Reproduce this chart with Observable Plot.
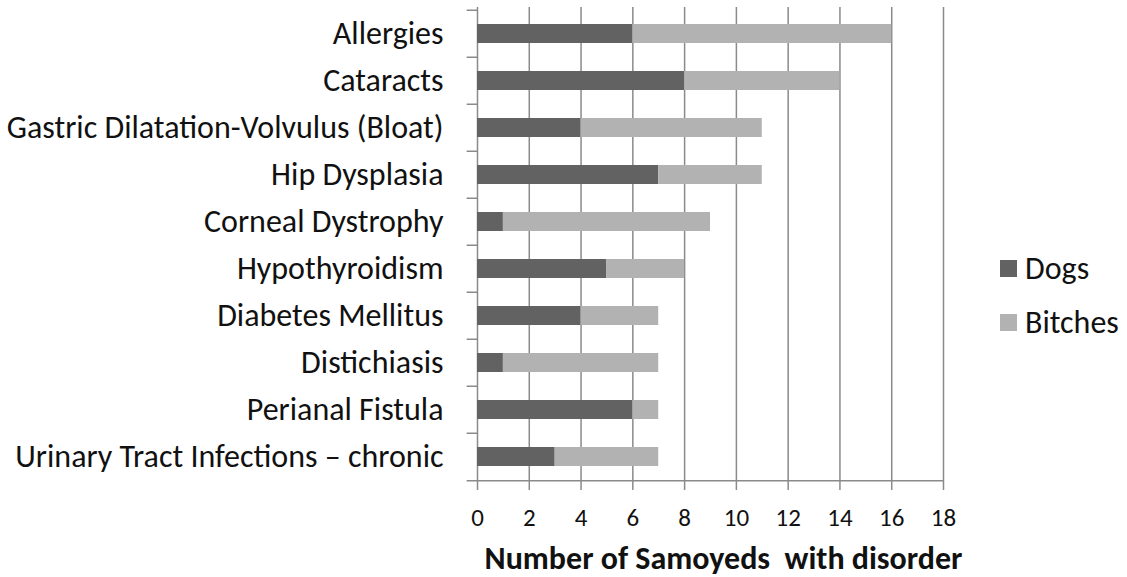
<!DOCTYPE html>
<html><head><meta charset="utf-8">
<script src="https://cdn.jsdelivr.net/npm/d3@7"></script>
<script src="https://cdn.jsdelivr.net/npm/@observablehq/plot@0.6"></script>
<style>
body{margin:0;background:#fff;font-family:Carlito,Lato,sans-serif;}
#wrap{position:relative;width:1127px;height:577px;}
#legend{position:absolute;left:1000px;top:248px;font-size:32px;color:#111;}
.li{display:flex;align-items:center;height:40px;margin-bottom:14px;}
.sw{width:17px;height:17px;margin-right:8px;}
</style></head>
<body><div id="wrap"><div id="legend"></div></div>
<script>
const categories = ["Allergies","Cataracts","Gastric Dilatation-Volvulus (Bloat)","Hip Dysplasia","Corneal Dystrophy","Hypothyroidism","Diabetes Mellitus","Distichiasis","Perianal Fistula","Urinary Tract Infections \u2013 chronic"];
const dogs =    [6, 8, 4, 7, 1, 5, 4, 1, 6, 3];
const bitches = [10, 6, 7, 4, 8, 3, 3, 6, 1, 4];
const series = ["Dogs","Bitches"];
const colors = ["#626262","#b2b2b2"];
const xTicks = [0,2,4,6,8,10,12,14,16,18];

const rows = [];
categories.forEach((c,i)=>{
  rows.push({cat:c, sex:"Dogs", v:dogs[i]});
  rows.push({cat:c, sex:"Bitches", v:bitches[i]});
});
const band = (577-7-95)/categories.length;
const chart = Plot.plot({
  width:1127, height:577,
  marginLeft:477, marginRight:184, marginTop:7, marginBottom:95,
  style:{fontFamily:"Carlito, Lato, sans-serif", background:"white"},
  x:{domain:[0,18], ticks:xTicks},
  y:{domain:categories, paddingInner:0.6, paddingOuter:0.3, align:0.5},
  color:{domain:series, range:colors},
  marks:[
    Plot.ruleX(xTicks,{x:d=>d, stroke:"#8a8a8a", strokeWidth:1.5, strokeOpacity:1}),
    Plot.axisX({ticks:xTicks, tickSize:8, tickPadding:18, stroke:"#8a8a8a", strokeWidth:1.5, fontSize:25, fill:"#111", label:null}),
    Plot.axisY({tickSize:0, tickPadding:34, fontSize:32, fill:"#111", label:null}),
    Plot.ruleY(categories,{y:d=>d, x1:-0.4, x2:0, dy:-band/2, stroke:"#8a8a8a", strokeWidth:1.5}),
    Plot.ruleY(categories.slice(-1),{y:d=>d, x1:-0.4, x2:18, dy:band/2, stroke:"#8a8a8a", strokeWidth:1.5}),
    Plot.barX(rows, Plot.stackX({y:"cat", x:"v", fill:"sex", order:null})),
    Plot.text(["Number of Samoyeds \u00a0with disorder"],{text:d=>d, frameAnchor:"bottom", lineAnchor:"middle", dy:76, dx:13, fontSize:32, fontWeight:"bold", fill:"#111"})
  ]
});
document.getElementById("wrap").prepend(chart);
const lg = document.getElementById("legend");
series.forEach((s,i)=>{
  const d = document.createElement("div"); d.className="li";
  d.innerHTML = `<div class="sw" style="background:${colors[i]}"></div><span>${s}</span>`;
  lg.appendChild(d);
});
</script></body></html>
